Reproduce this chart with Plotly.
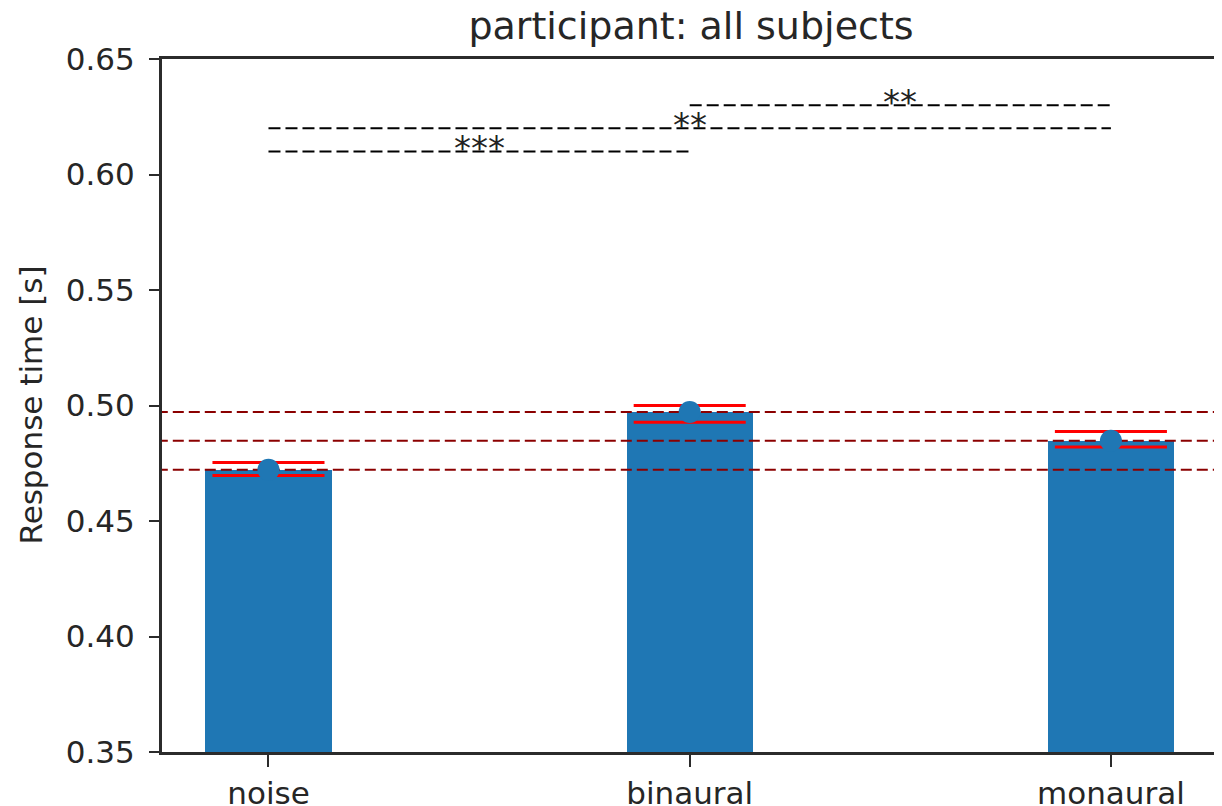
import plotly.graph_objects as go

# ---- data ----
categories = ["noise", "binaural", "monaural"]
means = [0.4722, 0.4972, 0.4847]
ci_low = [0.4697, 0.4927, 0.4820]
ci_high = [0.4753, 0.5000, 0.4887]
sig_from = [0, 0, 1]
sig_to = [1, 2, 2]
sig_level = [0.61, 0.62, 0.63]
sig_text = ["***", "**", "**"]
y_ticks = [0.35, 0.40, 0.45, 0.50, 0.55, 0.60, 0.65]
title_text = "participant: all subjects"
ylabel_text = "Response time [s]"

FONT = "DejaVu Sans"
TXT = "#262626"
AX = "#2b2b2b"
BLUE = "#1f77b4"

W, H = 1214, 798  # page body adds an 8px offset
L, R, T, B = 154, 2, 51, 54

xpos = list(range(len(categories)))
x_range = [-0.2528, 2.259]
ci_half = 0.133

fig = go.Figure()

# bars
fig.add_trace(go.Bar(x=xpos, y=means, width=0.3, marker=dict(color=BLUE, line=dict(width=0)),
                     base=0, showlegend=False, hoverinfo="skip"))

# dark red dashed reference lines at each mean
for m in means:
    fig.add_trace(go.Scatter(x=[x_range[0] - 1, x_range[1] + 1], y=[m, m], mode="lines",
                             line=dict(color="#8b0000", width=2, dash="11px,5px"),
                             showlegend=False, hoverinfo="skip"))

# red CI lines
for i, x in enumerate(xpos):
    for v in (ci_low[i], ci_high[i]):
        fig.add_trace(go.Scatter(x=[x - ci_half, x + ci_half], y=[v, v], mode="lines",
                                 line=dict(color="red", width=3),
                                 showlegend=False, hoverinfo="skip"))

# mean markers
fig.add_trace(go.Scatter(x=xpos, y=means, mode="markers",
                         marker=dict(color=BLUE, size=22, line=dict(width=0)),
                         showlegend=False, hoverinfo="skip"))

# significance lines
for a, b, lvl, t in zip(sig_from, sig_to, sig_level, sig_text):
    fig.add_trace(go.Scatter(x=[a, b], y=[lvl, lvl], mode="lines",
                             line=dict(color="black", width=2, dash="12px,5px"),
                             showlegend=False, hoverinfo="skip"))
    fig.add_annotation(x=(a + b) / 2, y=lvl, text=t, showarrow=False,
                       xanchor="center", yanchor="middle", yshift=3,
                       font=dict(family=FONT, size=34, color="#222222"))

# y label
plot_w = W - L - R
fig.add_annotation(xref="paper", yref="paper", x=(22 - L) / plot_w, y=0.5, text=ylabel_text,
                   textangle=-90, showarrow=False, xanchor="center", yanchor="middle",
                   font=dict(family=FONT, size=31, color=TXT))

fig.update_layout(
    width=W, height=H,
    margin=dict(l=L, r=R, t=T, b=B, autoexpand=False),
    paper_bgcolor="white", plot_bgcolor="white",
    font=dict(family=FONT, size=31, color=TXT),
    title=dict(text=title_text, x=0.5, xref="paper", xanchor="center",
               y=1 - 18 / H, yref="container", yanchor="middle",
               font=dict(family=FONT, size=38, color=TXT)),
    bargap=0,
)
fig.update_xaxes(range=x_range, tickvals=xpos, ticktext=categories,
                 showline=True, mirror=True, linecolor=AX, linewidth=3,
                 ticks="outside", ticklen=12, tickwidth=2, tickcolor=AX,
                 showgrid=False, zeroline=False, automargin=False,
                 tickfont=dict(family=FONT, size=31, color=TXT))
fig.update_yaxes(range=[0.35, 0.65], tickvals=y_ticks, tickformat=".2f",
                 showline=True, mirror=False, linecolor=AX, linewidth=3,
                 ticks="outside", ticklen=10, tickwidth=2, tickcolor=AX,
                 showgrid=False, zeroline=False, ticklabelstandoff=8, automargin=False,
                 tickfont=dict(family=FONT, size=31, color=TXT))

fig.write_html("out.html")
